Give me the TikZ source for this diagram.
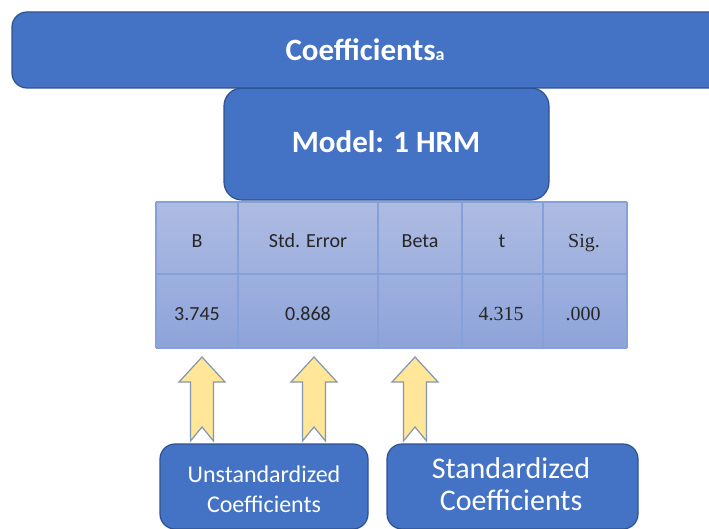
\documentclass[tikz,border=0pt]{standalone}
\usepackage{fontspec}
\setmainfont{Carlito}
\newfontfamily\numserif{Liberation Serif}
\definecolor{boxblue}{HTML}{4472C4}
\definecolor{boxedge}{HTML}{2F528F}
\definecolor{tabtop}{HTML}{AEBCE3}
\definecolor{tabbot}{HTML}{8DA3D9}
\definecolor{gridline}{HTML}{86A0DA}
\definecolor{arrfill}{HTML}{FFE699}
\definecolor{arredge}{HTML}{8497B0}
\definecolor{celltxt}{HTML}{262626}
\begin{document}
\begin{tikzpicture}[x=1pt,y=-1pt,
  bluebox/.style={draw=boxedge, line width=1.2pt, fill=boxblue, rounded corners=15pt},
  wtext/.style={text=white, inner sep=0pt, anchor=base},
  celltext/.style={inner sep=0pt, anchor=base, text=celltxt, font=\fontsize{20}{20}\selectfont},
  serifcell/.style={celltext, font=\numserif\fontsize{20}{20}\selectfont},
  gridrule/.style={draw=gridline, line width=1.1pt},
  uparrow/.style={draw=arredge, fill=arrfill, line width=1.2pt, line join=miter}]
\useasboundingbox (0,0) rectangle (709,529);
\begin{scope}
\clip (0,0) rectangle (709,529);
% model box (under the banner)
\draw[bluebox, rounded corners=18pt] (224,88) rectangle (549,200);
% banner
\draw[bluebox] (12,12) rectangle (740,88);
\node[wtext, font=\bfseries\fontsize{31}{31}\selectfont] (title) at (365,61)
  {Coefficients{\fontsize{18}{18}\selectfont a}};
\node[wtext, font=\bfseries\fontsize{31}{31}\selectfont] (model) at (386,153) {Model: 1 HRM};
% table
\shade[top color=tabtop, bottom color=tabbot] (156,202) rectangle (627,348);
\foreach \gx in {156,238,378,462,543,627} \draw[gridrule] (\gx,202) -- (\gx,348);
\draw[gridrule] (156,274) -- (627,274);
\draw[gridrule] (156,202) -- (627,202);
\draw[gridrule] (156,348) -- (627,348);
\node[celltext] (hB) at (197,248) {B};
\node[celltext] (hSE) at (308,248) {Std. Error};
\node[celltext] (hBeta) at (420,248) {Beta};
\node[celltext] (ht) at (502,248) {t};
\node[serifcell] (hSig) at (584,248) {Sig.};
\node[celltext] (vB) at (197,320) {3.745};
\node[celltext] (vSE) at (308,320) {0.868};
\node[serifcell] (vt) at (501,320) {4.315};
\node[serifcell] (vSig) at (583,320) {.000};
% arrows
\foreach \cx/\nm in {202/a1,314/a2,415/a3}{
  \draw[uparrow] (\cx,357) -- (\cx+23,382) -- (\cx+11.5,382) -- (\cx+11.5,441)
    -- (\cx,427) -- (\cx-11.5,441) -- (\cx-11.5,382) -- (\cx-23,382) -- cycle;
}
% bottom boxes
\draw[bluebox] (160,444) rectangle (368,529);
\draw[bluebox] (387,444) rectangle (638,529);
\node[wtext, font=\fontsize{24}{24}\selectfont] (u1) at (264,482) {Unstandardized};
\node[wtext, font=\fontsize{24}{24}\selectfont] (u2) at (264,512) {Coefficients};
\node[wtext, font=\fontsize{30}{30}\selectfont] (s1) at (511,478) {Standardized};
\node[wtext, font=\fontsize{30}{30}\selectfont] (s2) at (511,510) {Coefficients};
\end{scope}
\end{tikzpicture}
\end{document}
